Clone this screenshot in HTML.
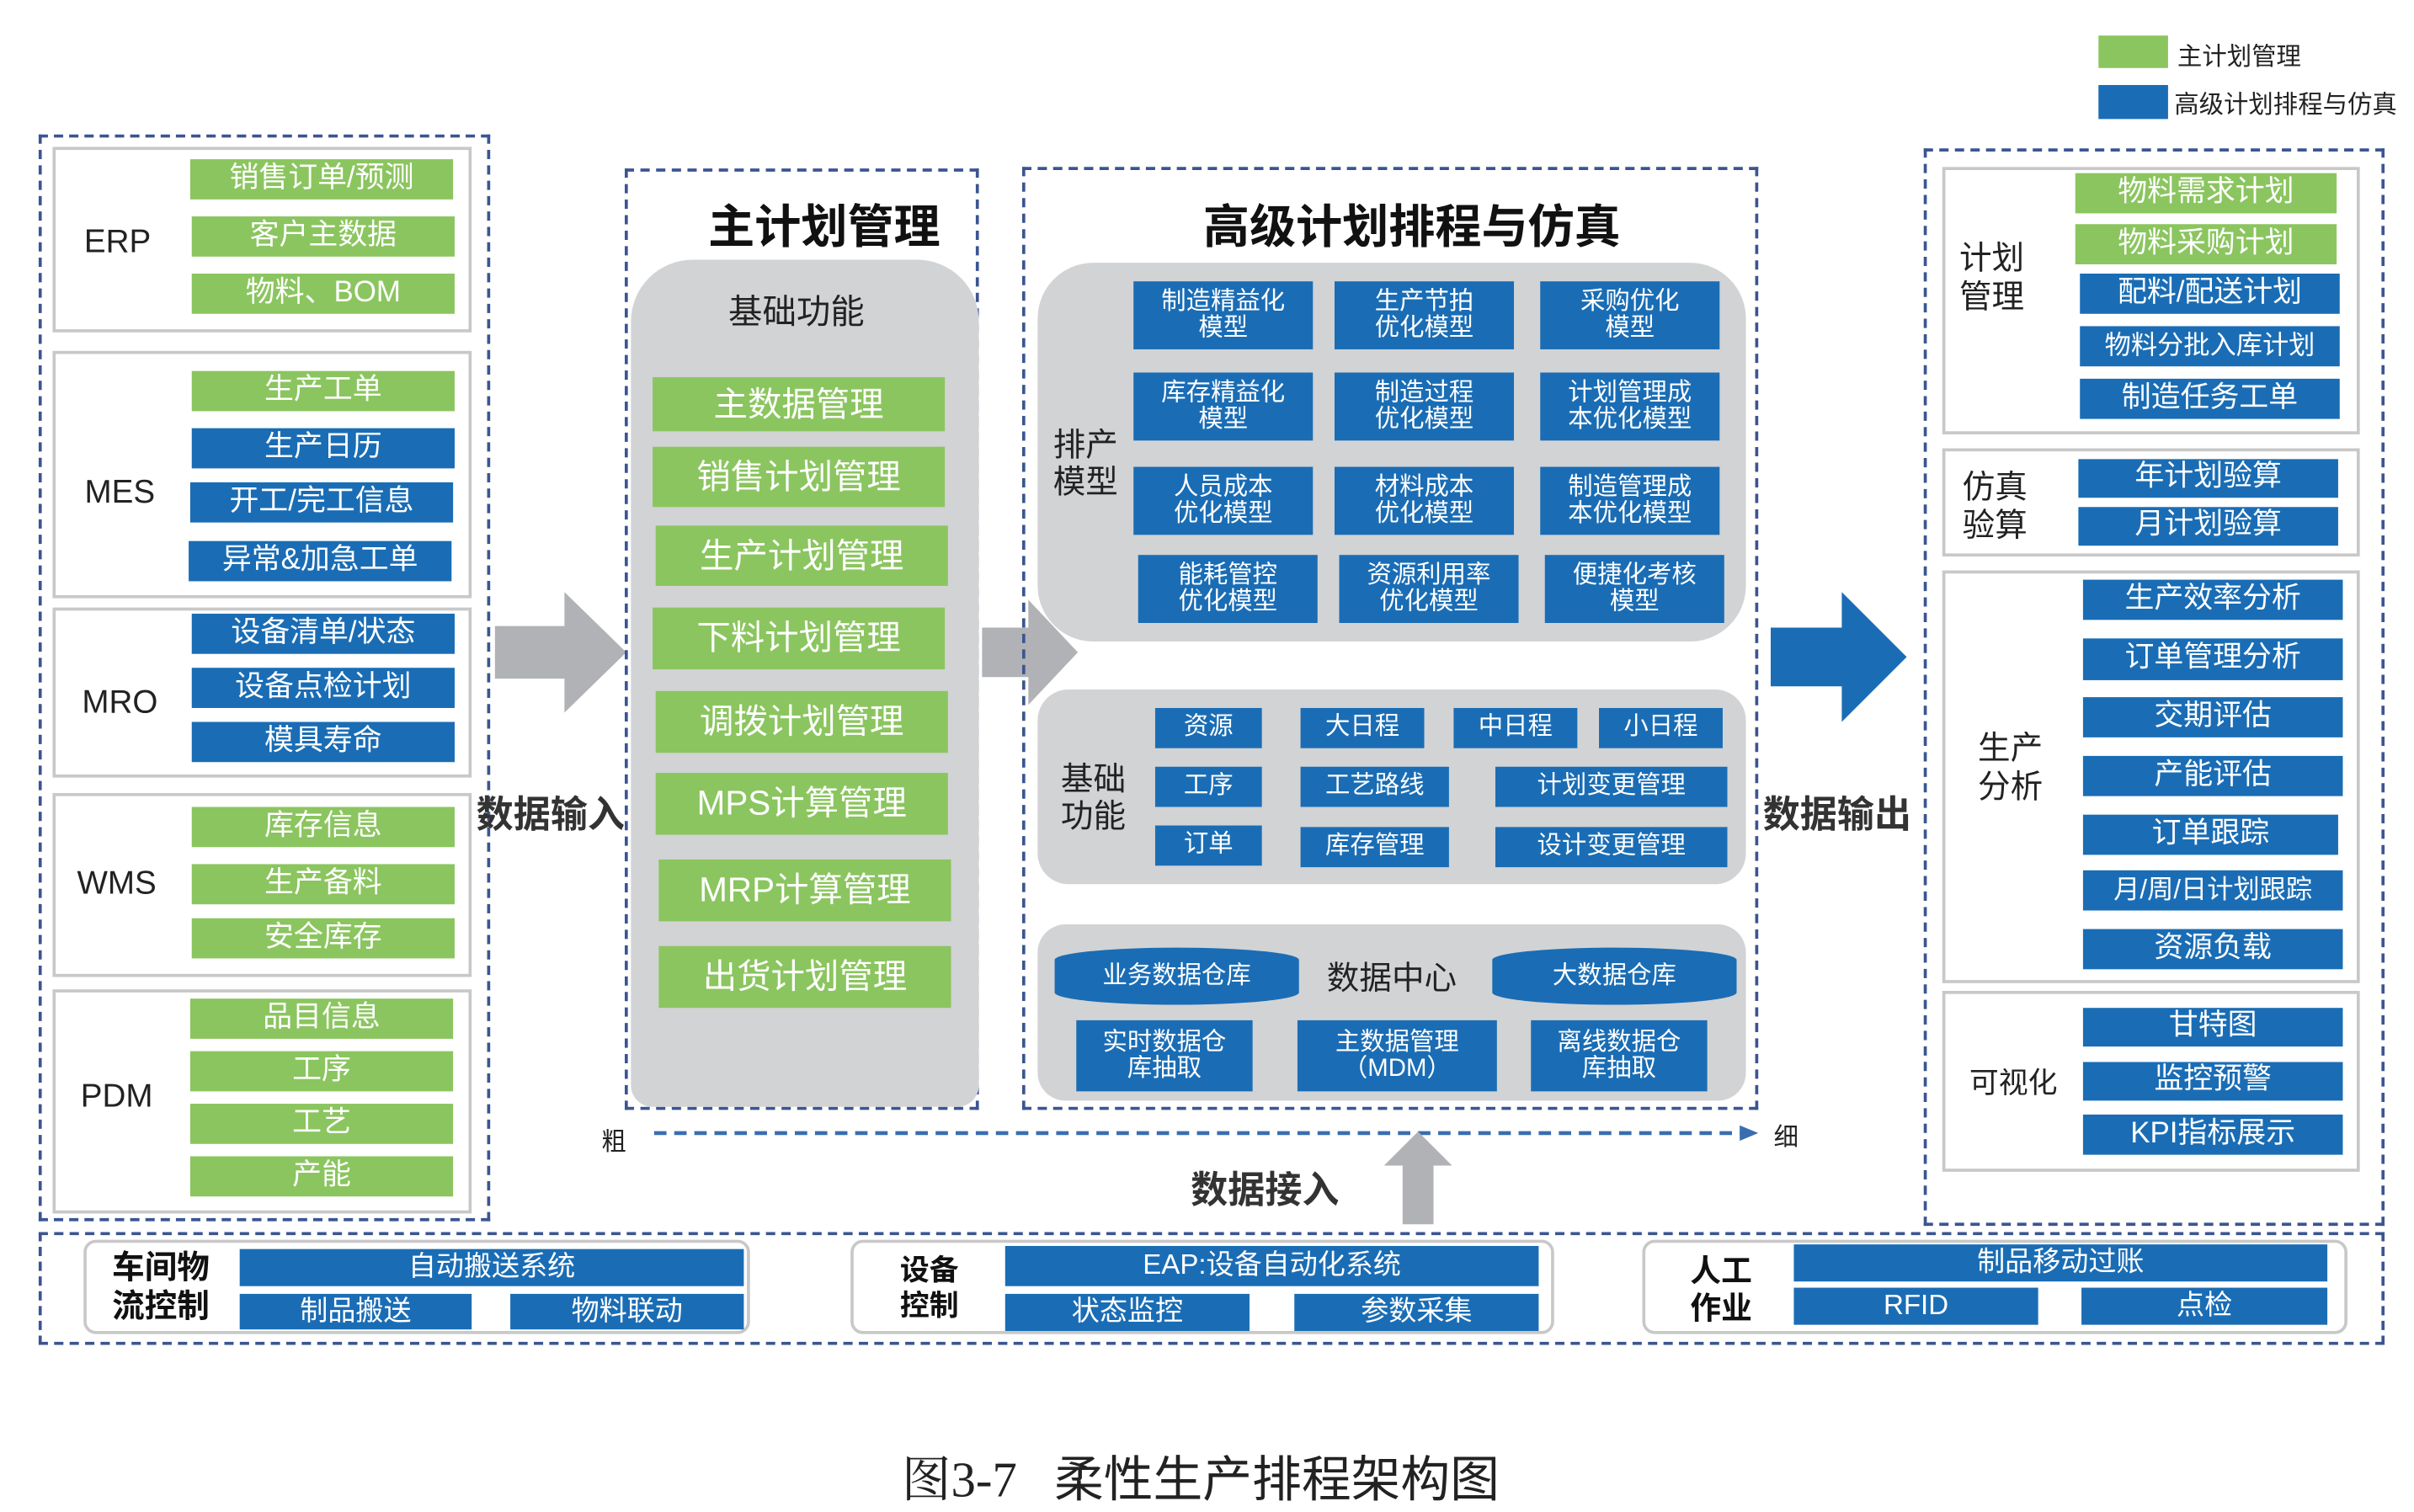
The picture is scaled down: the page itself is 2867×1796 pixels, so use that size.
<!DOCTYPE html>
<html><head><meta charset="utf-8"><style>
html,body{margin:0;padding:0;background:#fff;}
#w{position:relative;width:1561px;height:977px;transform:scale(1.8366,1.8362);transform-origin:0 0;font-family:"Liberation Sans","Noto Sans CJK SC",sans-serif;}
#w div{position:absolute;box-sizing:border-box;}
.r{display:flex;align-items:center;justify-content:center;color:#fff;text-align:center;line-height:1.08;font-size:19px;}
.g{background:#8bc55f;}
.b{background:#1a6db5;}
.bs{font-size:16px;}
.d{border:2px dashed #3b5592;}
.s{border:2px solid #c8c8c8;}
.gr{background:#d2d3d5;}
.l{color:#222;font-size:21px;display:flex;align-items:center;justify-content:center;text-align:center;line-height:1.2;}
.t{color:#111;font-weight:bold;font-size:30px;white-space:nowrap;}
</style></head><body><div id="w">
<!-- legend -->
<div class="g" style="left:1357px;top:23px;width:45px;height:21px"></div>
<div style="left:1408px;top:23px;font-size:16px;color:#222">主计划管理</div>
<div class="b" style="left:1357px;top:55px;width:45px;height:22px"></div>
<div style="left:1406px;top:54px;font-size:16px;color:#222;white-space:nowrap">高级计划排程与仿真</div>

<!-- left -->
<div class="d" style="left:25px;top:87px;width:292px;height:703px"></div>
<div class="s" style="left:34px;top:95px;width:271px;height:120px"></div>
<div class="l" style="left:40px;top:142px;width:72px;height:30px">ERP</div>
<div class="r g" style="left:123px;top:103px;width:170px;height:26px">销售订单/预测</div>
<div class="r g" style="left:124px;top:140px;width:170px;height:26px">客户主数据</div>
<div class="r g" style="left:124px;top:177px;width:170px;height:26px">物料、BOM</div>
<div class="s" style="left:34px;top:227px;width:271px;height:160px"></div>
<div class="l" style="left:40px;top:304px;width:75px;height:30px">MES</div>
<div class="r g" style="left:124px;top:240px;width:170px;height:26px">生产工单</div>
<div class="r b" style="left:124px;top:277px;width:170px;height:26px">生产日历</div>
<div class="r b" style="left:123px;top:312px;width:170px;height:26px">开工/完工信息</div>
<div class="r b" style="left:122px;top:350px;width:170px;height:26px">异常&amp;加急工单</div>
<div class="s" style="left:34px;top:393px;width:271px;height:110px"></div>
<div class="l" style="left:40px;top:440px;width:75px;height:30px">MRO</div>
<div class="r b" style="left:124px;top:397px;width:170px;height:26px">设备清单/状态</div>
<div class="r b" style="left:124px;top:432px;width:170px;height:26px">设备点检计划</div>
<div class="r b" style="left:124px;top:467px;width:170px;height:26px">模具寿命</div>
<div class="s" style="left:34px;top:513px;width:271px;height:119px"></div>
<div class="l" style="left:38px;top:557px;width:75px;height:30px">WMS</div>
<div class="r g" style="left:124px;top:522px;width:170px;height:26px">库存信息</div>
<div class="r g" style="left:124px;top:559px;width:170px;height:26px">生产备料</div>
<div class="r g" style="left:124px;top:594px;width:170px;height:26px">安全库存</div>
<div class="s" style="left:34px;top:640px;width:271px;height:145px"></div>
<div class="l" style="left:38px;top:695px;width:75px;height:30px">PDM</div>
<div class="r g" style="left:123px;top:646px;width:170px;height:26px">品目信息</div>
<div class="r g" style="left:123px;top:680px;width:170px;height:26px">工序</div>
<div class="r g" style="left:123px;top:714px;width:170px;height:26px">工艺</div>
<div class="r g" style="left:123px;top:748px;width:170px;height:26px">产能</div>

<!-- input arrow -->
<svg style="position:absolute;left:320px;top:383px" width="90" height="80"><polygon points="0,22 45,22 45,0 85,39 45,78 45,56 0,56" fill="#b1b2b5"/></svg>
<div style="left:308px;top:507px;font-size:24px;font-weight:bold;color:#333;white-space:nowrap">数据输入</div>

<!-- master plan -->
<div class="d" style="left:404px;top:109px;width:229px;height:609px"></div>
<div class="t" style="left:458px;top:122px">主计划管理</div>
<div class="gr" style="left:408px;top:168px;width:225px;height:548px;border-radius:40px 40px 14px 14px"></div>
<div style="left:471px;top:184px;font-size:22px;color:#222">基础功能</div>
<div class="r g" style="left:422px;top:244px;width:189px;height:35px;font-size:22px">主数据管理</div>
<div class="r g" style="left:422px;top:289px;width:189px;height:39px;font-size:22px">销售计划管理</div>
<div class="r g" style="left:424px;top:340px;width:189px;height:39px;font-size:22px">生产计划管理</div>
<div class="r g" style="left:422px;top:393px;width:189px;height:40px;font-size:22px">下料计划管理</div>
<div class="r g" style="left:424px;top:447px;width:189px;height:40px;font-size:22px">调拨计划管理</div>
<div class="r g" style="left:424px;top:500px;width:189px;height:40px;font-size:22px">MPS计算管理</div>
<div class="r g" style="left:426px;top:556px;width:189px;height:40px;font-size:22px">MRP计算管理</div>
<div class="r g" style="left:426px;top:612px;width:189px;height:40px;font-size:22px">出货计划管理</div>

<svg style="position:absolute;left:635px;top:388px" width="65" height="70"><polygon points="0,18 30,18 30,0 62,34 30,68 30,50 0,50" fill="#b1b2b5"/></svg>

<!-- APS -->
<div class="d" style="left:661px;top:108px;width:476px;height:610px"></div>
<div class="t" style="left:778px;top:122px">高级计划排程与仿真</div>
<div class="gr" style="left:671px;top:170px;width:458px;height:245px;border-radius:36px"></div>
<div class="l" style="left:674px;top:272px;width:56px;height:58px;font-size:21px;line-height:1.15">排产<br>模型</div>
<div class="r b bs" style="left:733px;top:182px;width:116px;height:44px">制造精益化<br>模型</div>
<div class="r b bs" style="left:863px;top:182px;width:116px;height:44px">生产节拍<br>优化模型</div>
<div class="r b bs" style="left:996px;top:182px;width:116px;height:44px">采购优化<br>模型</div>
<div class="r b bs" style="left:733px;top:241px;width:116px;height:44px">库存精益化<br>模型</div>
<div class="r b bs" style="left:863px;top:241px;width:116px;height:44px">制造过程<br>优化模型</div>
<div class="r b bs" style="left:996px;top:241px;width:116px;height:44px">计划管理成<br>本优化模型</div>
<div class="r b bs" style="left:733px;top:302px;width:116px;height:44px">人员成本<br>优化模型</div>
<div class="r b bs" style="left:863px;top:302px;width:116px;height:44px">材料成本<br>优化模型</div>
<div class="r b bs" style="left:996px;top:302px;width:116px;height:44px">制造管理成<br>本优化模型</div>
<div class="r b bs" style="left:736px;top:359px;width:116px;height:44px">能耗管控<br>优化模型</div>
<div class="r b bs" style="left:866px;top:359px;width:116px;height:44px">资源利用率<br>优化模型</div>
<div class="r b bs" style="left:999px;top:359px;width:116px;height:44px">便捷化考核<br>模型</div>

<div class="gr" style="left:671px;top:446px;width:458px;height:126px;border-radius:20px"></div>
<div class="l" style="left:678px;top:488px;width:58px;height:58px;font-size:21px;line-height:1.15">基础<br>功能</div>
<div class="r b bs" style="left:747px;top:458px;width:69px;height:26px">资源</div>
<div class="r b bs" style="left:841px;top:458px;width:80px;height:26px">大日程</div>
<div class="r b bs" style="left:940px;top:458px;width:80px;height:26px">中日程</div>
<div class="r b bs" style="left:1034px;top:458px;width:80px;height:26px">小日程</div>
<div class="r b bs" style="left:747px;top:496px;width:69px;height:26px">工序</div>
<div class="r b bs" style="left:841px;top:496px;width:96px;height:26px">工艺路线</div>
<div class="r b bs" style="left:967px;top:496px;width:150px;height:26px">计划变更管理</div>
<div class="r b bs" style="left:747px;top:534px;width:69px;height:26px">订单</div>
<div class="r b bs" style="left:841px;top:535px;width:96px;height:26px">库存管理</div>
<div class="r b bs" style="left:967px;top:535px;width:150px;height:26px">设计变更管理</div>

<div class="gr" style="left:671px;top:598px;width:458px;height:114px;border-radius:18px"></div>
<div class="r b bs" style="left:682px;top:613px;width:158px;height:37px;border-radius:50%/8px">业务数据仓库</div>
<div class="r b bs" style="left:965px;top:613px;width:158px;height:37px;border-radius:50%/8px">大数据仓库</div>
<div style="left:858px;top:617px;font-size:21px;color:#222">数据中心</div>
<div class="r b bs" style="left:696px;top:660px;width:114px;height:46px">实时数据仓<br>库抽取</div>
<div class="r b bs" style="left:839px;top:660px;width:129px;height:46px">主数据管理<br>（MDM）</div>
<div class="r b bs" style="left:990px;top:660px;width:114px;height:46px">离线数据仓<br>库抽取</div>

<!-- 粗 细 line -->
<svg style="position:absolute;left:415px;top:725px" width="730" height="16"><line x1="8" y1="8" x2="712" y2="8" stroke="#3a6db0" stroke-width="2.5" stroke-dasharray="8,5"/><polygon points="710,3 722,8 710,13" fill="#3a6db0"/></svg>
<div style="left:389px;top:725px;font-size:16px;color:#222">粗</div>
<div style="left:1147px;top:722px;font-size:16px;color:#222">细</div>
<svg style="position:absolute;left:895px;top:732px" width="50" height="62"><polygon points="22,0 44,22 32,22 32,60 12,60 12,22 0,22" fill="#b1b2b5"/></svg>
<div style="left:770px;top:750px;font-size:24px;font-weight:bold;color:#333">数据接入</div>

<!-- output arrow -->
<svg style="position:absolute;left:1145px;top:383px" width="92" height="88"><polygon points="0,23 46,23 46,0 88,42 46,84 46,61 0,61" fill="#1a6db5"/></svg>
<div style="left:1140px;top:507px;font-size:24px;font-weight:bold;color:#333;white-space:nowrap">数据输出</div>

<!-- right -->
<div class="d" style="left:1244px;top:96px;width:298px;height:697px"></div>
<div class="s" style="left:1256px;top:108px;width:270px;height:173px"></div>
<div class="l" style="left:1260px;top:152px;width:56px;height:56px;line-height:1.2">计划<br>管理</div>
<div class="r g" style="left:1342px;top:112px;width:169px;height:26px">物料需求计划</div>
<div class="r g" style="left:1342px;top:145px;width:169px;height:26px">物料采购计划</div>
<div class="r b" style="left:1345px;top:177px;width:168px;height:26px">配料/配送计划</div>
<div class="r b" style="left:1345px;top:211px;width:168px;height:26px;font-size:17px">物料分批入库计划</div>
<div class="r b" style="left:1345px;top:245px;width:168px;height:26px">制造任务工单</div>
<div class="s" style="left:1256px;top:290px;width:270px;height:70px"></div>
<div class="l" style="left:1262px;top:300px;width:56px;height:56px">仿真<br>验算</div>
<div class="r b" style="left:1344px;top:297px;width:168px;height:25px">年计划验算</div>
<div class="r b" style="left:1344px;top:328px;width:168px;height:25px">月计划验算</div>
<div class="s" style="left:1256px;top:369px;width:270px;height:267px"></div>
<div class="l" style="left:1272px;top:469px;width:56px;height:56px">生产<br>分析</div>
<div class="r b" style="left:1347px;top:375px;width:168px;height:26px">生产效率分析</div>
<div class="r b" style="left:1347px;top:413px;width:168px;height:27px">订单管理分析</div>
<div class="r b" style="left:1347px;top:451px;width:168px;height:26px">交期评估</div>
<div class="r b" style="left:1347px;top:489px;width:168px;height:26px">产能评估</div>
<div class="r b" style="left:1347px;top:527px;width:165px;height:26px">订单跟踪</div>
<div class="r b" style="left:1347px;top:563px;width:168px;height:26px;font-size:17px">月/周/日计划跟踪</div>
<div class="r b" style="left:1347px;top:601px;width:168px;height:26px">资源负载</div>
<div class="s" style="left:1256px;top:641px;width:270px;height:117px"></div>
<div class="l" style="left:1266px;top:688px;width:72px;height:28px;font-size:19px">可视化</div>
<div class="r b" style="left:1347px;top:652px;width:168px;height:25px">甘特图</div>
<div class="r b" style="left:1347px;top:687px;width:168px;height:25px">监控预警</div>
<div class="r b" style="left:1347px;top:721px;width:168px;height:26px">KPI指标展示</div>

<!-- bottom -->
<div class="d" style="left:25px;top:797px;width:1517px;height:73px"></div>
<div class="s" style="left:54px;top:802px;width:431px;height:61px;border-radius:8px"></div>
<div class="l" style="left:62px;top:806px;width:84px;height:54px;font-weight:bold;font-size:21px;line-height:1.2;color:#111">车间物<br>流控制</div>
<div class="r b bs" style="left:155px;top:808px;width:326px;height:24px;font-size:18px">自动搬送系统</div>
<div class="r b bs" style="left:155px;top:837px;width:150px;height:23px;font-size:18px">制品搬送</div>
<div class="r b bs" style="left:330px;top:837px;width:151px;height:23px;font-size:18px">物料联动</div>
<div class="s" style="left:550px;top:802px;width:455px;height:61px;border-radius:8px"></div>
<div class="l" style="left:572px;top:808px;width:58px;height:54px;font-weight:bold;font-size:19px;line-height:1.2;color:#111">设备<br>控制</div>
<div class="r b bs" style="left:650px;top:806px;width:345px;height:26px;font-size:18px">EAP:设备自动化系统</div>
<div class="r b bs" style="left:650px;top:837px;width:158px;height:24px;font-size:18px">状态监控</div>
<div class="r b bs" style="left:837px;top:837px;width:158px;height:24px;font-size:18px">参数采集</div>
<div class="s" style="left:1062px;top:802px;width:456px;height:61px;border-radius:8px"></div>
<div class="l" style="left:1084px;top:808px;width:58px;height:54px;font-weight:bold;font-size:20px;line-height:1.2;color:#111">人工<br>作业</div>
<div class="r b bs" style="left:1160px;top:805px;width:345px;height:24px;font-size:18px">制品移动过账</div>
<div class="r b bs" style="left:1160px;top:833px;width:158px;height:24px;font-size:18px">RFID</div>
<div class="r b bs" style="left:1346px;top:833px;width:159px;height:24px;font-size:18px">点检</div>

<!-- caption -->
<div style="left:583px;top:932px;font-size:32px;color:#222;white-space:nowrap;font-family:'Liberation Serif','Noto Serif CJK SC',serif">图3-7&nbsp;&nbsp;&nbsp;<span style="font-family:'Liberation Sans','Noto Sans CJK SC',sans-serif">柔性生产排程架构图</span></div>
</div></body></html>
